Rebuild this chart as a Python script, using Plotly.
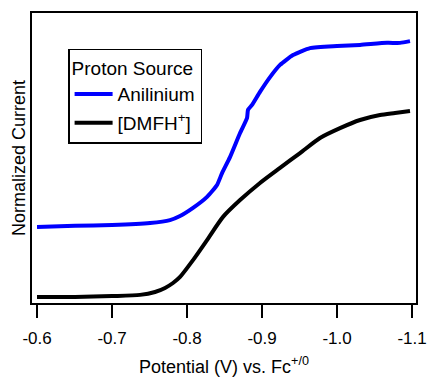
import plotly.graph_objects as go

# Potential (V vs Fc+/0) and normalized current
anil_x = [-0.6, -0.6507, -0.7, -0.7507, -0.7773, -0.7907, -0.808, -0.8267, -0.84, -0.8467,
          -0.8573, -0.8707, -0.88, -0.8813, -0.8867, -0.8973, -0.9107, -0.924, -0.9413,
          -0.964, -1.0, -1.0307, -1.0667, -1.084, -1.0973]
anil_y = [0.262, 0.266, 0.269, 0.276, 0.286, 0.300, 0.328, 0.366, 0.407, 0.448,
          0.503, 0.586, 0.638, 0.666, 0.683, 0.728, 0.779, 0.821, 0.855,
          0.879, 0.886, 0.890, 0.897, 0.897, 0.903]

dmfh_x = [-0.6, -0.6507, -0.7, -0.7373, -0.7573, -0.7707, -0.7813, -0.7907, -0.808, -0.8267,
          -0.848, -0.8707, -0.8973, -0.924, -0.9507, -0.9773, -1.004, -1.0307, -1.0573,
          -1.0773, -1.0973]
dmfh_y = [0.021, 0.021, 0.024, 0.028, 0.038, 0.052, 0.069, 0.090, 0.148, 0.217,
          0.297, 0.355, 0.414, 0.466, 0.517, 0.569, 0.603, 0.631, 0.648,
          0.655, 0.662]

tick_vals = [-0.6, -0.7, -0.8, -0.9, -1.0, -1.1]
tick_text = ["-0.6", "-0.7", "-0.8", "-0.9", "-1.0", "-1.1"]

FONT = "Liberation Sans, Arial, sans-serif"

fig = go.Figure()
fig.add_trace(go.Scatter(x=anil_x, y=anil_y, mode="lines", name="Anilinium",
                         line=dict(color="#0000ff", width=4, shape="spline", smoothing=0.5),
                         legendgroup="a"))
fig.add_trace(go.Scatter(x=dmfh_x, y=dmfh_y, mode="lines", name="[DMFH<sup>+</sup>]",
                         line=dict(color="#000000", width=4, shape="spline", smoothing=0.7),
                         legendgroup="b"))

fig.update_layout(
    width=427, height=377,
    margin=dict(l=32, r=11, t=13, b=74, autoexpand=False),
    paper_bgcolor="white", plot_bgcolor="white",
    font=dict(family=FONT, size=18, color="black"),
    showlegend=True,
    legend=dict(
        title=dict(text="Proton Source", font=dict(size=19)),
        x=0.094, y=0.876, xanchor="left", yanchor="top",
        bordercolor="black", borderwidth=1.5, bgcolor="white",
        font=dict(size=19), tracegroupgap=1, itemwidth=38,
    ),
    xaxis=dict(
        range=[-0.5933, -1.1053], showgrid=False, zeroline=False, automargin=False,
        showline=True, linecolor="black", linewidth=2, mirror=True,
        ticks="outside", ticklen=13, tickwidth=2, tickcolor="black",
        tickvals=tick_vals, ticktext=tick_text, tickfont=dict(size=17),
        ticklabelstandoff=6,
        title=dict(text="Potential (V) vs. Fc<sup>+/0</sup>", font=dict(size=18), standoff=14),
    ),
    yaxis=dict(
        range=[0, 1], showgrid=False, zeroline=False, automargin=False,
        showline=True, linecolor="black", linewidth=2, mirror=True,
        showticklabels=False, ticks="",
        title=dict(text="Normalized Current", font=dict(size=18), standoff=0),
    ),
)

fig.write_html("out.html")
